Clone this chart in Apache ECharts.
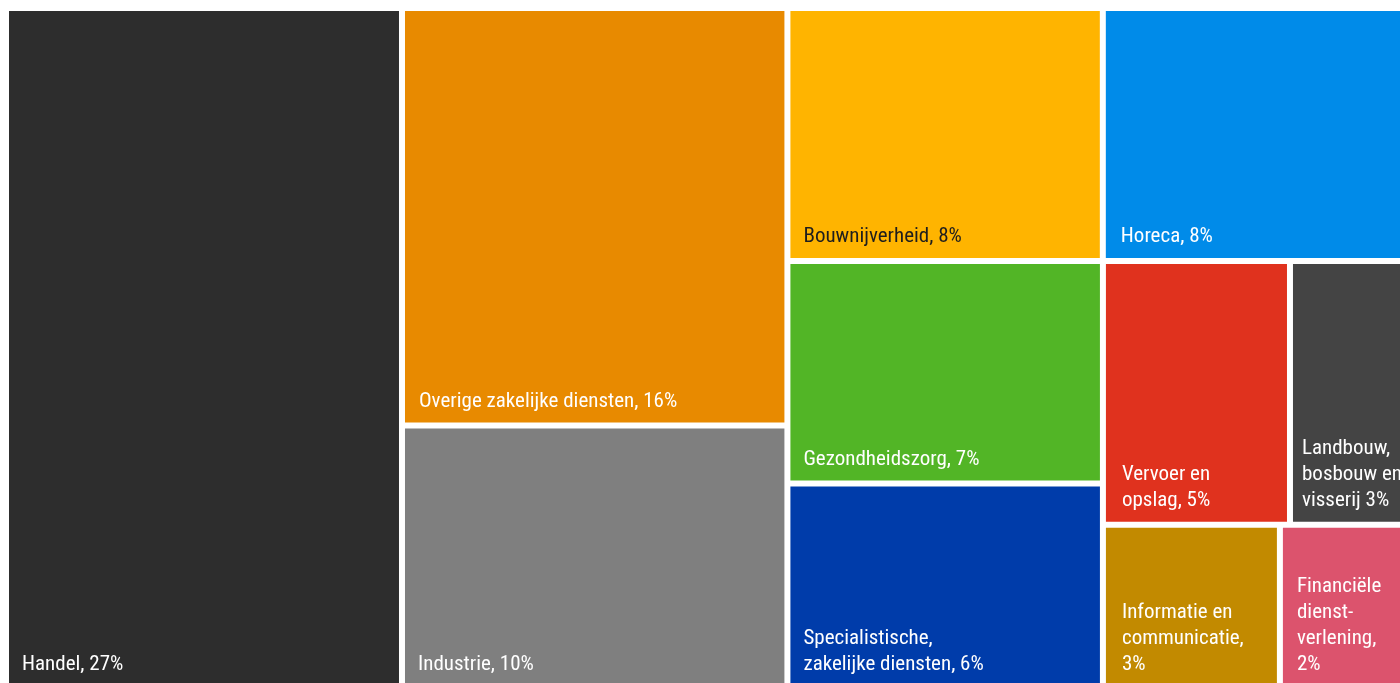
<!DOCTYPE html>
<html>
<head>
<meta charset="utf-8">
<script src="https://cdn.jsdelivr.net/npm/echarts@6/dist/echarts.min.js"></script>
<style>
html,body{margin:0;padding:0;background:#ffffff;overflow:hidden}
#chart{width:1400px;height:683px}
</style>
</head>
<body>
<div id="chart"></div>
<script>
// Sectors (display names, wrapped as in the reference)
const categories = [
  'Handel',
  'Overige zakelijke diensten',
  'Industrie',
  'Bouwnijverheid',
  'Horeca',
  'Gezondheidszorg',
  'Specialistische,\nzakelijke diensten',
  'Vervoer en\nopslag',
  'Landbouw,\nbosbouw en\nvisserij',
  'Informatie en\ncommunicatie',
  'Financiële\ndienst-\nverlening'
];
// Estimated shares (%) read from the tile areas
const shares = [27.00, 16.11, 10.17, 7.99, 8.06, 7.03, 6.49, 4.94, 3.46, 2.91, 2.32];
// Separator between name and percentage in each label
const separators = [', ', ', ', ', ', ', ', ', ', ', ', ', ', ', ', ' ', ',\n', ',\n'];

// Styles (kept apart from the data)
const tileColors = ['#2d2d2d', '#e88a00', '#7f7f7f', '#ffb400', '#008be9', '#52b526',
                    '#003caa', '#e0321e', '#444444', '#c28a00', '#dc536d'];
const labelColors = ['#ffffff', '#ffffff', '#ffffff', '#1e1e1e', '#ffffff', '#ffffff',
                     '#ffffff', '#ffffff', '#ffffff', '#ffffff', '#ffffff'];
const labelPadLeft = [13, 14, 13, 13, 15, 13, 13, 16, 9, 16, 14];

const FONT = "'Liberation Sans Narrow', 'Arial Narrow', 'Roboto Condensed', 'DejaVu Sans Condensed', sans-serif";

const chart = echarts.init(document.getElementById('chart'), null, {renderer: 'canvas'});

const data = categories.map((name, i) => ({
  name: name,
  value: shares[i],
  itemStyle: {color: tileColors[i]},
  label: {color: labelColors[i], padding: [0, 0, 8, labelPadLeft[i]]}
}));

chart.setOption({
  backgroundColor: '#ffffff',
  animation: false,
  tooltip: {show: false},
  series: [{
    type: 'treemap',
    left: 9,
    top: 11,
    width: 1409,
    height: 675,
    roam: false,
    nodeClick: false,
    sort: false,
    squareRatio: 1,
    visibleMin: 0,
    breadcrumb: {show: false},
    itemStyle: {gapWidth: 6, borderWidth: 0, borderColor: '#ffffff'},
    levels: [{itemStyle: {gapWidth: 6, borderWidth: 0, borderColor: '#ffffff'}}],
    upperLabel: {show: false},
    emphasis: {disabled: true},
    label: {
      show: true,
      position: 'insideBottomLeft',
      distance: 0,
      padding: [0, 0, 8, 12],
      fontSize: 21,
      lineHeight: 26,
      fontFamily: FONT,
      color: '#ffffff',
      overflow: 'none',
      formatter: function (p) {
        const i = categories.indexOf(p.name);
        return p.name + separators[i] + Math.round(shares[i]) + '%';
      }
    },
    data: data
  }]
});
</script>
</body>
</html>
